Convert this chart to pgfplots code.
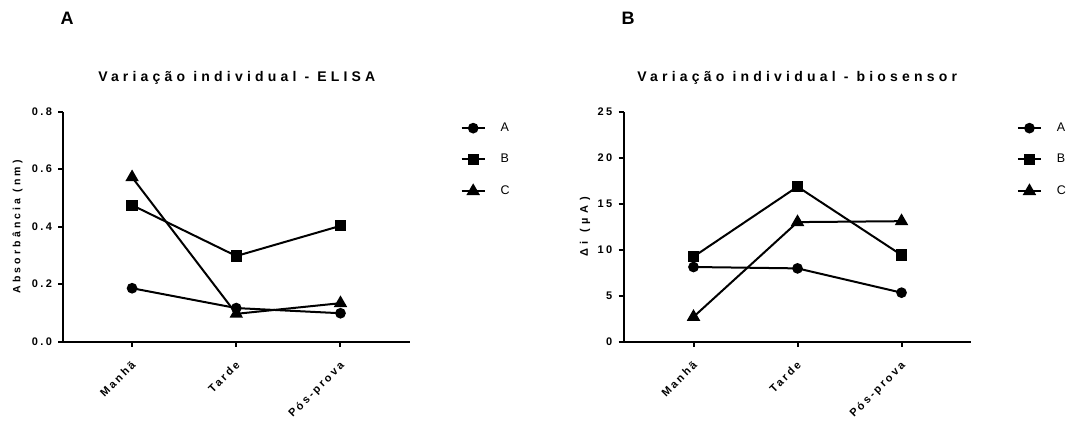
\documentclass[border=0pt]{standalone}
\usepackage{fontspec}
\setmainfont{Liberation Sans}
\newfontfamily\spf[LetterSpace=30]{Liberation Sans}
\newfontfamily\spw[LetterSpace=45]{Liberation Sans}
\newfontfamily\spt[LetterSpace=30]{Liberation Sans}
\newfontfamily\spk[LetterSpace=22]{Liberation Sans}
\usepackage{pgfplots}
\pgfplotsset{compat=1.18}

\pgfplotsset{
  myaxis/.style={
    scale only axis, height=230pt,
    anchor=south west,
    clip=false,
    axis x line*=bottom, axis y line*=left,
    axis line style={line width=2pt, black, -},
    every tick/.style={line width=2pt, black},
    tick align=outside, major tick length=5pt,
    xtick={0,1,2}, xticklabels={Manhã,Tarde,Pós-prova},
    xticklabel style={xshift=-1.5pt, yshift=-13.5pt, rotate=45, anchor=north east, font=\spk\bfseries\fontsize{11}{12}\selectfont, inner sep=0pt},
    yticklabel style={font=\spk\bfseries\fontsize{11}{12}\selectfont, inner sep=0pt, xshift=-6pt},
    title style={font=\spt\bfseries\fontsize{14}{16}\selectfont, at={(0.5,1)}, anchor=base, yshift=24pt},
    every axis y label/.style={rotate=90, anchor=center, font=\spf\bfseries\fontsize{10.5}{12}\selectfont},
    legend style={anchor=north west, draw=none, fill=none, font=\fontsize{12.5}{14}\selectfont,
      row sep=21pt, column sep=15pt, nodes={inner sep=0pt}},
    legend cell align=left,
    legend image code/.code={\draw[mark repeat=2,mark phase=2,#1] plot coordinates {(0pt,0pt) (11.5pt,0pt) (23pt,0pt)};},
    every axis plot/.append style={line width=2pt, black, mark options={solid, fill=black}},
  },
  sA/.style={mark=*, mark size=4.3pt},
  sB/.style={mark=square*, mark size=4.6pt},
  sC/.style={mark=triangle*, mark size=5.8pt},
}

\begin{document}
\begin{tikzpicture}
\useasboundingbox (0pt,0pt) rectangle (1075pt,-423pt);
\node[font=\bfseries\fontsize{18}{20}\selectfont] at (67pt,-18pt) {A};
\node[font=\bfseries\fontsize{18}{20}\selectfont] at (628pt,-18pt) {B};

\begin{axis}[myaxis, at={(63.3pt,-341.7pt)}, width=347pt,
  xmin=-0.66, xmax=2.67, ymin=0, ymax=0.8,
  ytick={0,0.2,0.4,0.6,0.8}, yticklabels={0.0,0.2,0.4,0.6,0.8},
  title={Variação individual - ELISA},
  ylabel={Absorbância (nm)},
  ylabel style={at={(axis description cs:-0.132,0.5)}},
  legend style={at={(1.136,0.96)}},
]
\addplot[sA] coordinates {(0,0.186) (1,0.117) (2,0.099)};
\addlegendentry{A}
\addplot[sB] coordinates {(0,0.475) (1,0.298) (2,0.403)};
\addlegendentry{B}
\addplot[sC] coordinates {(0,0.572) (1,0.097) (2,0.134)};
\addlegendentry{C}
\end{axis}

\begin{axis}[myaxis, at={(623.5pt,-341.7pt)}, width=347.5pt,
  xmin=-0.673, xmax=2.668, ymin=0, ymax=25,
  ytick={0,5,10,15,20,25}, yticklabels={0,5,10,15,20,25},
  title={Variação individual - biosensor},
  ylabel={Δi (µA)},
  ylabel style={at={(axis description cs:-0.111,0.5)}, font=\spw\bfseries\fontsize{11}{12}\selectfont},
  legend style={at={(1.123,0.96)}},
]
\addplot[sA] coordinates {(0,8.12) (1,7.97) (2,5.33)};
\addlegendentry{A}
\addplot[sB] coordinates {(0,9.24) (1,16.85) (2,9.42)};
\addlegendentry{B}
\addplot[sC] coordinates {(0,2.7) (1,13.0) (2,13.1)};
\addlegendentry{C}
\end{axis}
\end{tikzpicture}
\end{document}
